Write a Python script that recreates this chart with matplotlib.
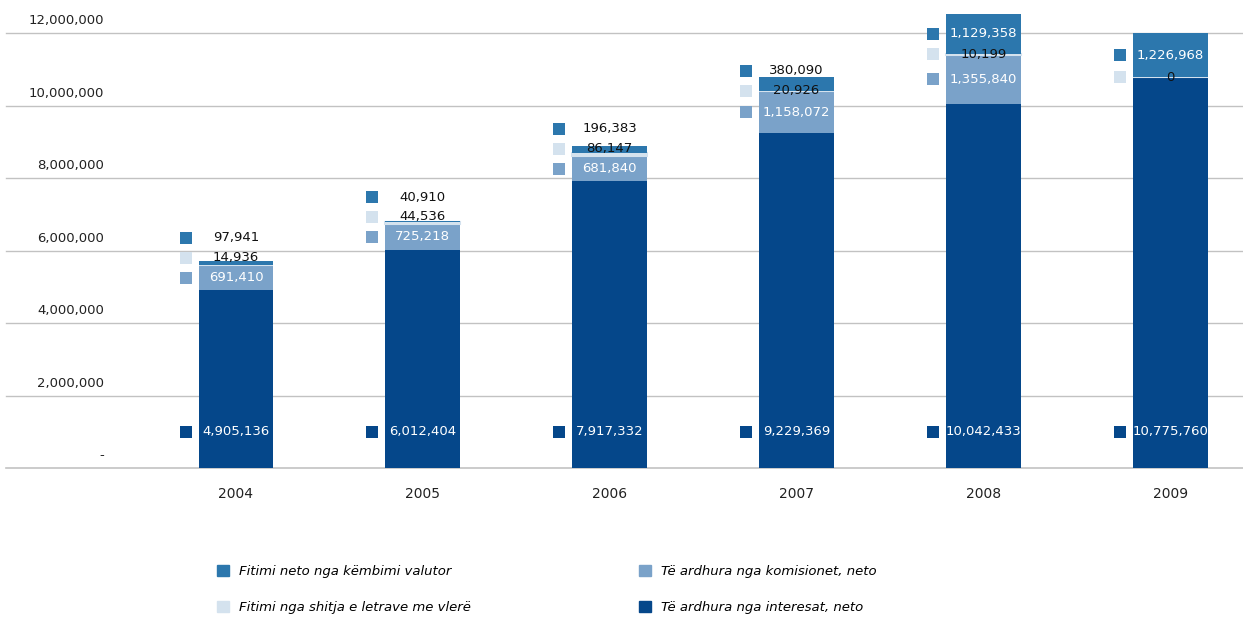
import numpy as np
import matplotlib.pyplot as plt
from matplotlib.patches import Patch

plt.rcParams['font.family'] = ['DejaVu Sans']

years = ['2004', '2005', '2006', '2007', '2008', '2009']
interesat = [4905136, 6012404, 7917332, 9229369, 10042433, 10775760]
komisionet = [691410, 725218, 681840, 1158072, 1355840, np.nan]
shitja = [14936, 44536, 86147, 20926, 10199, 0]
kembimi = [97941, 40910, 196383, 380090, 1129358, 1226968]

names = ['Fitimi neto nga këmbimi valutor',
         'Fitimi nga shitja e letrave me vlerë',
         'Të ardhura nga komisionet, neto',
         'Të ardhura nga interesat, neto']

c_int = '#05478a'
c_kom = '#7aa2c9'
c_shi = '#d4e2ee'
c_kem = '#2c77ad'

fig = plt.figure(figsize=(12.43, 6.19), dpi=100)
ax = fig.add_axes([6/1243, 1 - 468/619, 1 - 6/1243, 468/619])

x = np.arange(len(years))
w = 0.40
kom = np.nan_to_num(np.array(komisionet, dtype=float))
b1 = np.array(interesat, dtype=float)
b2 = b1 + kom
b3 = b2 + np.array(shitja)
b4 = b3 + np.array(kembimi)

ax.bar(x, interesat, w, color=c_int, zorder=3)
ax.bar(x, kom, w, bottom=b1, color=c_kom, zorder=3)
ax.bar(x, shitja, w, bottom=b2, color=c_shi, edgecolor=c_shi, lw=1.5, zorder=3)
ax.bar(x, kembimi, w, bottom=b3, color=c_kem, zorder=3)

ax.set_xlim(-1.231, 5.39)
ax.set_ylim(0, 12e6 * 468 / 435)

# gridlines with labels sitting above them
for v in range(0, 12000001, 2000000):
    ax.axhline(v, color='#c2c2c2', lw=1.2 if v == 0 else 1.0, zorder=1,
               clip_on=False)
    lab = '-' if v == 0 else f'{v:,}'
    ax.annotate(lab, xy=(98/1237, v), xycoords=('axes fraction', 'data'),
                xytext=(0, 4), textcoords='offset points', ha='right',
                va='bottom', fontsize=9.5, color='#222222')

ax.set_xticks(x)
ax.set_xticklabels(years, fontsize=10, color='#222222')
ax.tick_params(axis='x', length=0, pad=14)
ax.set_yticks([])
for s in ax.spines.values():
    s.set_visible(False)

# value labels with little colour squares to the left of each bar
gap = 0.55e6
mx = -0.27
for i in range(len(years)):
    def put(y, val, col, tcol):
        ax.scatter(x[i] + mx, y, marker='s', s=80, color=col, zorder=4,
                   linewidths=0)
        ax.text(x[i], y, f'{val:,.0f}', ha='center', va='center',
                fontsize=9.5, color=tcol, zorder=5)

    put(1.0e6, interesat[i], c_int, 'white')
    prev = None
    if not np.isnan(komisionet[i]):
        yk = (b1[i] + b2[i]) / 2
        put(yk, komisionet[i], c_kom, 'white')
        prev = yk
    ys = b3[i] if prev is None else max(b3[i], prev + gap)
    put(ys, shitja[i], c_shi, '#111111')
    ye = max((b3[i] + b4[i]) / 2, ys + gap)
    put(ye, kembimi[i], c_kem, 'white' if ye < b4[i] else '#111111')

# legend, two columns placed separately
cols = [c_kem, c_shi, c_kom, c_int]
for k, x0 in enumerate([217, 639]):
    hs = [Patch(color=c) for c in cols[2*k:2*k+2]]
    fig.legend(hs, names[2*k:2*k+2], loc='upper left',
               bbox_to_anchor=(x0/1243, 1 - 565/619), frameon=False,
               handlelength=0.9, handleheight=0.9, labelspacing=1.75,
               handletextpad=0.8, borderaxespad=0, borderpad=0,
               prop={'style': 'italic', 'size': 9.5})

fig.savefig('out.png', dpi=100)
